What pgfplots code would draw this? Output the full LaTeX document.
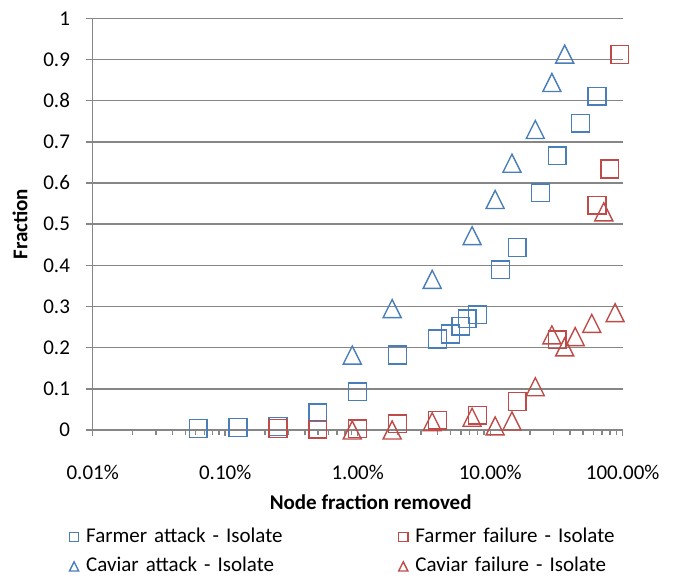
\documentclass[border=0pt]{standalone}
\usepackage{fontspec}
\setmainfont{Carlito}
\usepackage{pgfplots}
\pgfplotsset{compat=1.18}
\definecolor{cblue}{HTML}{4A7EBB}
\definecolor{cred}{HTML}{BE4B48}
\definecolor{cgrid}{HTML}{868686}
\pgfdeclareplotmark{xtri}{%
  \pgfpathmoveto{\pgfqpoint{0pt}{\pgfplotmarksize}}%
  \pgfpathlineto{\pgfqpoint{-\pgfplotmarksize}{-\pgfplotmarksize}}%
  \pgfpathlineto{\pgfqpoint{\pgfplotmarksize}{-\pgfplotmarksize}}%
  \pgfpathclose
  \pgfusepathqstroke
}
\newcommand{\fs}{\fontsize{10.5}{12.6}\selectfont}
\begin{document}
\begin{tikzpicture}
\path[use as bounding box] (-46.35pt,-74.5pt) rectangle (290.15pt,215pt);
\begin{axis}[
  at={(0pt,0pt)}, anchor=south west,
  scale only axis, width=265pt, height=205.85pt,
  xmode=log, xmin=1e-4, xmax=1, ymin=0, ymax=1,
  clip=false,
  axis lines*=left,
  axis line style={cgrid, line width=0.7pt},
  ymajorgrids,
  major grid style={cgrid, line width=0.7pt},
  tick align=outside,
  major tick length=3.2pt,
  minor tick length=2.5pt,
  tick style={cgrid, line width=0.7pt},
  xtick={1e-4,1e-3,1e-2,1e-1,1},
  xticklabels={0.01\%,0.10\%,1.00\%,10.00\%,100.00\%},
  minor xtick={2e-4,3e-4,4e-4,5e-4,6e-4,7e-4,8e-4,9e-4,2e-3,3e-3,4e-3,5e-3,6e-3,7e-3,8e-3,9e-3,2e-2,3e-2,4e-2,5e-2,6e-2,7e-2,8e-2,9e-2,2e-1,3e-1,4e-1,5e-1,6e-1,7e-1,8e-1,9e-1},
  ytick={0,0.1,0.2,0.3,0.4,0.5,0.6,0.7,0.8,0.9,1},
  yticklabels={0,0.1,0.2,0.3,0.4,0.5,0.6,0.7,0.8,0.9,1},
  tick label style={font=\fs, text=black},
  xticklabel style={anchor=center, yshift=-18pt},
  yticklabel style={anchor=east, inner sep=0pt, xshift=-8pt},
  xlabel={Node fraction removed},
  ylabel={Fraction},
  every axis x label/.style={at={([xshift=139pt,yshift=-35.85pt]axis description cs:0,0)}, anchor=center, font=\fs\bfseries},
  every axis y label/.style={at={([xshift=-36.35pt]axis description cs:0,0.5)}, anchor=center, rotate=90, font=\fs\bfseries},
  legend columns=2,
  legend cell align=left,
  legend style={at={(axis description cs:0,0)}, anchor=north west, xshift=-12.45pt, yshift=-48.85pt,
    draw=none, fill=none, inner sep=0pt, font=\fs, row sep=5.65pt,
    nodes={inner sep=0pt, text height=7pt, text depth=2pt, text width=155.6pt, align=left}},
  legend image code/.code={\path (-2.75pt,0pt) (5.85pt,0pt); \draw[#1, mark size=2.3pt] plot coordinates {(0pt,0pt)};},
]
\addplot[only marks, mark=square, mark size=4.45pt, mark options={cblue, line width=0.7pt}] coordinates {
(0.000625,0.004) (0.00125,0.006) (0.0025,0.009) (0.005,0.042) (0.01,0.093) (0.02,0.182)
(0.04,0.221) (0.05,0.233) (0.06,0.252) (0.067,0.27) (0.08,0.28) (0.12,0.389) (0.16,0.443)
(0.24,0.576) (0.32,0.666) (0.48,0.745) (0.64,0.811)};
\addlegendentry{Farmer attack - Isolate}
\addplot[only marks, mark=square, mark size=4.45pt, mark options={cred, line width=0.7pt}] coordinates {
(0.0025,0.004) (0.005,0.002) (0.01,0.003) (0.02,0.015) (0.04,0.024) (0.08,0.036) (0.16,0.069)
(0.32,0.219) (0.64,0.546) (0.8,0.634) (0.95,0.912)};
\addlegendentry{Farmer failure - Isolate}
\addplot[only marks, mark=xtri, mark size=4.5pt, mark options={cblue, line width=0.7pt}] coordinates {
(0.0091,0.182) (0.0182,0.295) (0.0365,0.366) (0.073,0.472) (0.109,0.56) (0.146,0.648)
(0.219,0.73) (0.292,0.844) (0.365,0.913)};
\addlegendentry{Caviar attack - Isolate}
\addplot[only marks, mark=xtri, mark size=4.5pt, mark options={cred, line width=0.7pt}] coordinates {
(0.0091,0.0) (0.0182,0.0) (0.0365,0.02) (0.073,0.031) (0.109,0.01) (0.146,0.022) (0.219,0.105)
(0.292,0.231) (0.365,0.202) (0.438,0.227) (0.584,0.259) (0.72,0.53) (0.876,0.285)};
\addlegendentry{Caviar failure - Isolate}
\end{axis}
\end{tikzpicture}
\end{document}
